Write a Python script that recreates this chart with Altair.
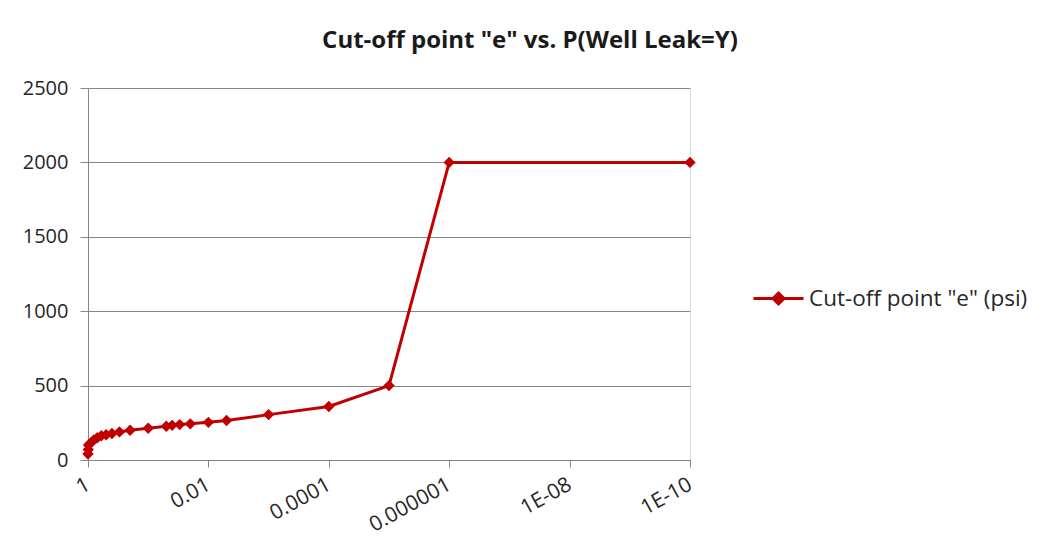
import altair as alt
import pandas as pd
import math

probs = [1, 0.99, 0.98, 0.9, 0.8, 0.7, 0.6, 0.5, 0.4, 0.3, 0.2, 0.1,
         0.05, 0.04, 0.03, 0.02, 0.01, 0.005, 0.001, 0.0001, 0.00001,
         0.000001, 1e-10]
cutoff = [40, 70, 100, 115, 135, 150, 163, 170, 178, 189, 200, 213,
          227, 233, 238, 243, 253, 265, 305, 360, 500, 2000, 2000]
series_name = 'Cut-off point "e" (psi)'
tick_vals = [1, 0.01, 0.0001, 0.000001, 1e-8, 1e-10]
tick_labels = ["1", "0.01", "0.0001", "0.000001", "1E-08", "1E-10"]
y_ticks = [0, 500, 1000, 1500, 2000, 2500]

df = pd.DataFrame({"P": probs, "e": cutoff, "series": series_name})

# label expression built from the tick lists
expr = "''"
for v, lab in reversed(list(zip(tick_vals, tick_labels))):
    expr = f"(abs(log(datum.value)/LN10 - ({math.log10(v)})) < 0.01 ? '{lab}' : {expr})"

RED = "#C00000"
FONT = "Open Sans"

x = alt.X("P:Q",
          scale=alt.Scale(type="log", domain=[1, 1e-10], nice=False),
          axis=alt.Axis(values=tick_vals, labelExpr=expr, labelAngle=331,
                        labelAlign="right", labelBaseline="middle",
                        labelPadding=16, tickSize=7, grid=False, title=None,
                        domainColor="#868686", tickColor="#868686",
                        labelFontSize=21, labelColor="#262626", labelFont=FONT))
y = alt.Y("e:Q",
          scale=alt.Scale(domain=[0, 2500], nice=False),
          axis=alt.Axis(values=y_ticks, grid=True, gridColor="#868686", format="d",
                        domainColor="#868686", tickColor="#868686", tickSize=8,
                        labelPadding=12, title=None, labelFontSize=20,
                        labelColor="#262626", labelFont=FONT))

line = alt.Chart(df).mark_line(color=RED, strokeWidth=3).encode(x=x, y=y)
pts = alt.Chart(df).mark_point(shape="diamond", filled=True, size=130, opacity=1).encode(
    x=x, y=y,
    color=alt.Color("series:N", scale=alt.Scale(range=[RED]),
                    legend=alt.Legend(title=None, orient="none", legendX=664, legendY=184,
                                      symbolType="M-1,0L1,0M0,-0.22L0.22,0L0,0.22L-0.22,0Z",
                                      symbolSize=2500, symbolStrokeWidth=3,
                                      symbolStrokeColor=RED, symbolFillColor=RED,
                                      labelFontSize=22.5, labelFont=FONT, labelColor="#262626",
                                      labelLimit=400, labelOffset=4)))

chart = (line + pts).properties(
    width=602, height=372,
    title=alt.TitleParams('Cut-off point "e" vs. P(Well Leak=Y)', fontSize=24,
                          font=FONT, fontWeight="bold", color="#1a1a1a",
                          anchor="middle", dx=141, offset=25),
    autosize=alt.AutoSizeParams(type="none"),
    padding={"left": 80, "top": 80, "right": 350, "bottom": 80},
).configure_view(stroke=None).configure(background="white")

chart.save("out.html", embed_options={"renderer": "svg", "actions": False})
